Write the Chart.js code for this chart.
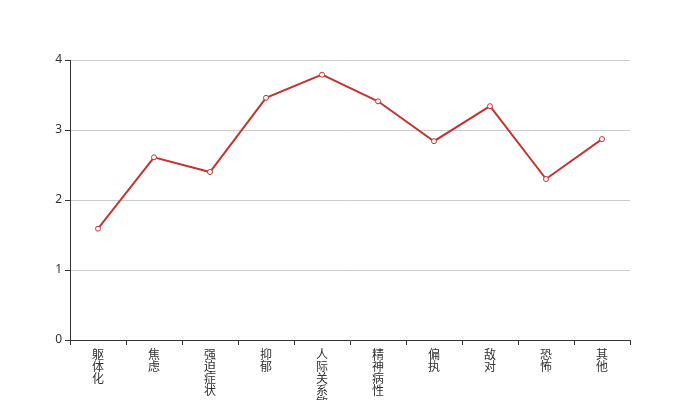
<!DOCTYPE html>
<html>
<head>
<meta charset="utf-8">
<script src="https://cdn.jsdelivr.net/npm/chart.js@4/dist/chart.umd.min.js"></script>
<style>
html,body{margin:0;padding:0;background:#fff;}
#wrap{width:700px;height:400px;}
</style>
</head>
<body>
<div id="wrap"><canvas id="c" width="700" height="400"></canvas></div>
<script>
const categories = ['躯体化','焦虑','强迫症状','抑郁','人际关系敏感','精神病性','偏执','敌对','恐怖','其他'];
const scores = [1.59, 2.61, 2.40, 3.46, 3.79, 3.41, 2.84, 3.34, 2.30, 2.87];
const yTicks = [0, 1, 2, 3, 4];

const labels = categories.map(s => Array.from(s));
const font = {family: '"Noto Sans CJK SC", "Noto Sans", sans-serif', size: 12, lineHeight: 1};

new Chart(document.getElementById('c'), {
  type: 'line',
  data: {
    labels: labels,
    datasets: [{
      data: scores,
      borderColor: '#c23531',
      borderWidth: 2,
      backgroundColor: '#fff',
      pointBackgroundColor: '#fff',
      pointBorderColor: '#c23531',
      pointBorderWidth: 1,
      pointRadius: 2.5,
      tension: 0,
      fill: false
    }]
  },
  options: {
    responsive: false,
    animation: false,
    layout: {padding: {top: 60, right: 70, left: 0, bottom: 0}},
    plugins: {legend: {display: false}, tooltip: {enabled: false}},
    scales: {
      x: {
        offset: true,
        grid: {offset: true, drawOnChartArea: false, drawTicks: true, tickLength: 5, tickColor: '#333'},
        border: {color: '#333', width: 1},
        ticks: {color: '#333', font: font, maxRotation: 0, minRotation: 0, autoSkip: false, padding: 3},
        afterFit: s => { s.height = 60; }
      },
      y: {
        min: 0, max: 4,
        afterBuildTicks: s => { s.ticks = yTicks.map(v => ({value: v})); },
        grid: {color: '#ccc', tickLength: 5, tickColor: '#333'},
        border: {color: '#333', width: 1},
        ticks: {color: '#333', font: {family: '"Noto Sans", sans-serif', size: 12}, padding: 3},
        afterFit: s => { s.width = 70; }
      }
    }
  }
});
</script>
</body>
</html>
